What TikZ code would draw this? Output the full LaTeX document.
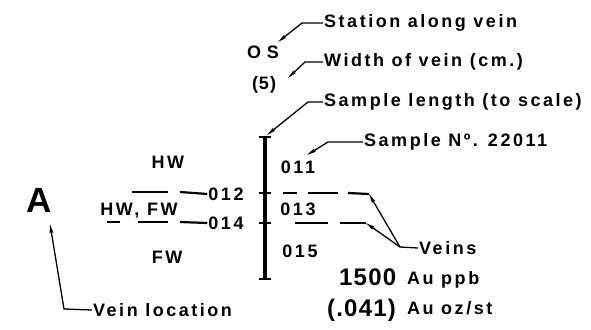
\documentclass[tikz,border=0pt]{standalone}
\usepackage{fontspec}
\usepackage{tikz}
\usetikzlibrary{arrows.meta}
\newfontfamily\lettering{Liberation Sans}[LetterSpace=14]
\newfontfamily\letterwide{Liberation Sans}[LetterSpace=5]

\begin{document}
\begin{tikzpicture}[x=1pt,y=-1pt,
		lbl/.style={font=\lettering\bfseries\fontsize{18}{18}\selectfont,inner sep=1pt},
		num/.style={font=\letterwide\bfseries\fontsize{24}{24}\selectfont,inner sep=1pt},
		pointer/.style={line width=1.3pt,-{Stealth[length=9pt,width=3.5pt,inset=1pt]}},
		vein/.style={line width=2.2pt}]
			\useasboundingbox (0,0) rectangle (591,329);
			\node[lbl,anchor=west] (station) at (323,23) {Station along vein};
			\node[lbl,anchor=west] (widthlbl) at (323,62) {Width of vein (cm.)};
			\node[lbl,anchor=west] (lengthlbl) at (323,102) {Sample length (to scale)};
			\node[lbl,anchor=west] (numlbl) at (363,142) {Sample Nº. 22011};
			\node[lbl] (os) at (263,52) {O\kern6pt S};
			\node[lbl] (wid) at (264,85) {(\kern1pt5\kern1pt)};
			\coordinate (stationknee) at (302,23);
			\coordinate (stationtip) at (278,42);
			\coordinate (widthknee) at (305,62);
			\coordinate (widthtip) at (288,78);
			\coordinate (lengthknee) at (308,102);
			\coordinate (lengthtip) at (267,135);
			\coordinate (numknee) at (328,142);
			\coordinate (numtip) at (307,155);
			\draw[pointer] (station.west) -- (stationknee) -- (stationtip);
			\draw[pointer] (widthlbl.west) -- (widthknee) -- (widthtip);
			\draw[pointer] (lengthlbl.west) -- (lengthknee) -- (lengthtip);
			\draw[pointer] (numlbl.west) -- (numknee) -- (numtip);
			\coordinate (bartop) at (265,137);
			\coordinate (barbot) at (265,279);
			\coordinate (tick12) at (265,193);
			\coordinate (tick14) at (265,223);
			\draw[line width=4.5pt] (bartop) -- (barbot);
			\draw[line width=2.5pt] ([xshift=-6]bartop) -- ([xshift=6]bartop);
			\draw[line width=2.5pt] ([xshift=-6]barbot) -- ([xshift=6]barbot);
			\draw[line width=2pt] ([xshift=-6]tick12) -- ([xshift=6]tick12);
			\draw[line width=2pt] ([xshift=-6]tick14) -- ([xshift=6]tick14);
			\node[lbl] (s011) at (298,167) {011};
			\node[lbl] (s012) at (226,194) {012};
			\node[lbl] (s013) at (298,209) {013};
			\node[lbl] (s014) at (226,223) {014};
			\node[lbl] (s015) at (300,251) {015};
			\node[lbl] (hw) at (168,162) {HW};
			\node[lbl] (hwfw) at (139,211) {HW, FW};
			\node[lbl] (fw) at (167,257) {FW};
			\draw[vein] (132,192) -- (168,192);
			\draw[vein] (180,192) -- (s012.west);
			\draw[vein] (107,222) -- (120,222);
			\draw[vein] (138,222) -- (168,222);
			\draw[vein] (180,222) -- (s014.west);
			\coordinate (veinup) at (369,194);
			\coordinate (veinlow) at (366,223);
			\draw[vein] (283,193) -- (297,193);
			\draw[vein] (308,193) -- (338,193);
			\draw[vein] (348,193) -- (veinup);
			\draw[vein] (295,223) -- (328,223);
			\draw[vein] (340,223) -- (veinlow);
			\node[lbl,anchor=west] (veinslbl) at (418,248) {Veins};
			\coordinate (veinsknee) at (400,247);
			\draw[line width=1.3pt] (veinslbl.west) -- (veinsknee);
			\draw[pointer] (veinsknee) -- (veinup);
			\draw[pointer] (veinsknee) -- (veinlow);
			\node[font=\bfseries\fontspec{Liberation Sans}\fontsize{35}{35}\selectfont] (loc) at (39,200) {A};
			\node[lbl,anchor=west] (loclbl) at (92,310) {Vein location};
			\coordinate (locknee) at (64,309);
			\coordinate (loctip) at (50,224);
			\draw[pointer] (loclbl.west) -- (locknee) -- (loctip);
			\node[num,anchor=west] (ppb) at (338,277) {1500};
			\node[lbl,anchor=west] (ppbunit) at (406,280) {Au ppb};
			\node[num,anchor=west] (ozst) at (326,310) {(.041)};
			\node[lbl,anchor=west] (ozunit) at (406,308) {Au oz/st};
		\end{tikzpicture}
\end{document}
